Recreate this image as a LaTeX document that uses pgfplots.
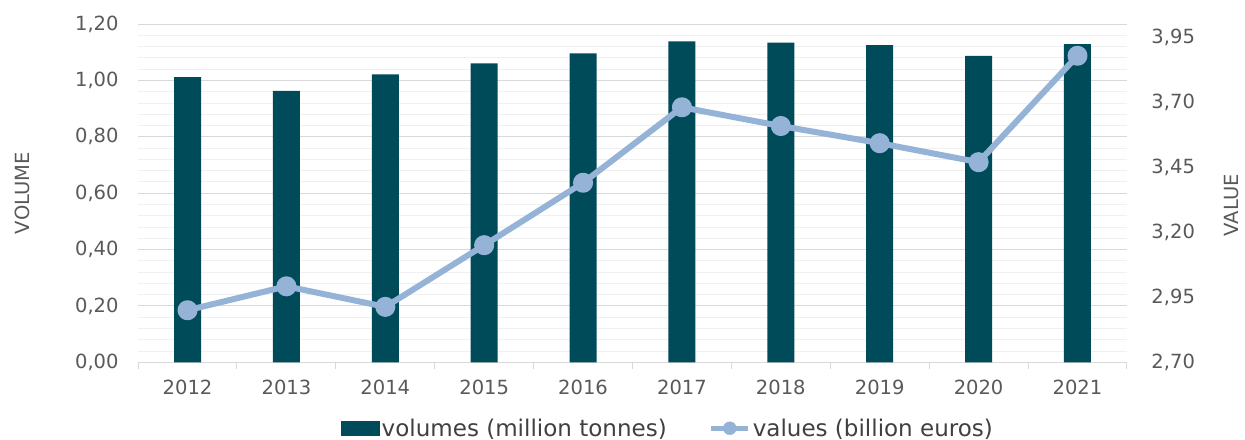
\documentclass[border=0pt]{standalone}
\usepackage{pgfplots}
\pgfplotsset{compat=1.18}
\usepackage{fontspec}
\setmainfont{DejaVu Sans}
\definecolor{barcol}{HTML}{004B5A}
\definecolor{linecol}{HTML}{95B3D7}
\definecolor{txt}{HTML}{595959}
\definecolor{legtxt}{HTML}{404040}
\definecolor{gmaj}{HTML}{D9D9D9}
\definecolor{gmin}{HTML}{F0F0F0}
\begin{document}
\begin{tikzpicture}[font=\fontsize{19.5}{24}\selectfont]
\pgfplotsset{
 common/.style={
  scale only axis, width=988pt, height=338pt,
  xmin=-0.5, xmax=9.5,
  tick label style={font=\fontsize{19.5}{24}\selectfont, text=txt},
  label style={font=\fontsize{19.5}{24}\selectfont, text=txt},
  major tick length=0pt,
  /pgf/number format/.cd, fixed, fixed zerofill, precision=2, use comma, assume math mode=true, /pgfplots/.cd,
 }
}
\begin{axis}[common,
  ymin=0, ymax=1.2, ytick={0,0.2,0.4,0.6,0.8,1.0,1.2},
  ymajorgrids, major grid style={gmaj, line width=1pt},
  extra y ticks={0.04,0.08,0.12,0.16,0.24,0.28,0.32,0.36,0.44,0.48,0.52,0.56,0.64,0.68,0.72,0.76,0.84,0.88,0.92,0.96,1.04,1.08,1.12,1.16},
  extra y tick labels={},
  extra y tick style={major grid style={gmin, line width=0.8pt}},
  axis x line*=bottom, axis y line*=left,
  x axis line style={draw=gmaj, line width=1.2pt, -},
  y axis line style={draw=none},
  ytick style={draw=none},
  xtick={0,...,9}, xticklabels={2012,2013,2014,2015,2016,2017,2018,2019,2020,2021},
  minor xtick={-0.5,0.5,...,9.5}, minor tick length=7pt, tick align=outside,
  xtick style={draw=gmaj, line width=1pt},
  yticklabel style={xshift=-16pt},
  xticklabel style={yshift=-14pt},
  ylabel={VOLUME},
  ylabel style={at={(axis description cs:0,0.5)}, anchor=center, yshift=116pt},
  legend style={draw=none, fill=none, at={(axis description cs:0.536,-0.195)}, anchor=center,
    legend columns=2, font=\fontsize{23}{27}\selectfont, text=legtxt,
    /tikz/every even column/.append style={column sep=40pt}},
  legend cell align=left,
]
\addplot[ybar, bar width=27pt, fill=barcol, draw=none, forget plot] coordinates {
(0,1.012) (1,0.963) (2,1.021) (3,1.060) (4,1.096) (5,1.138) (6,1.134) (7,1.125) (8,1.087) (9,1.129)};
\addlegendimage{legend image code/.code={\fill[barcol] (0pt,-7pt) rectangle (38pt,7pt);}}
\addlegendentry{volumes (million tonnes)}
\addlegendimage{legend image code/.code={\draw[linecol, line width=5pt] (0pt,0pt)--(37pt,0pt); \fill[linecol] (18.5pt,0pt) circle (6.5pt);}}
\addlegendentry{values (billion euros)}
\coordinate (LL) at (rel axis cs:0,0);
\coordinate (UR) at (rel axis cs:1,1);
\end{axis}
\begin{axis}[common,
  ymin=2.70, ymax=4.00, ytick={2.70,2.95,3.20,3.45,3.70,3.95},
  axis y line*=right, axis x line=none,
  y axis line style={draw=none}, ytick style={draw=none},
  yticklabel style={xshift=21pt},
  ylabel={VALUE},
  ylabel style={at={(axis description cs:1,0.464)}, anchor=center, yshift=-105pt},
]
\addplot[linecol, line width=6pt, line join=round, mark=*, mark size=7pt, mark options={fill=linecol, draw=none}] coordinates {
(0,2.900) (1,2.992) (2,2.913) (3,3.150) (4,3.390) (5,3.680) (6,3.608) (7,3.542) (8,3.469) (9,3.878)};
\end{axis}
\pgfresetboundingbox
\path ([xshift=-138pt,yshift=-77pt]LL) rectangle ([xshift=118pt,yshift=24pt]UR);
\end{tikzpicture}
\end{document}
